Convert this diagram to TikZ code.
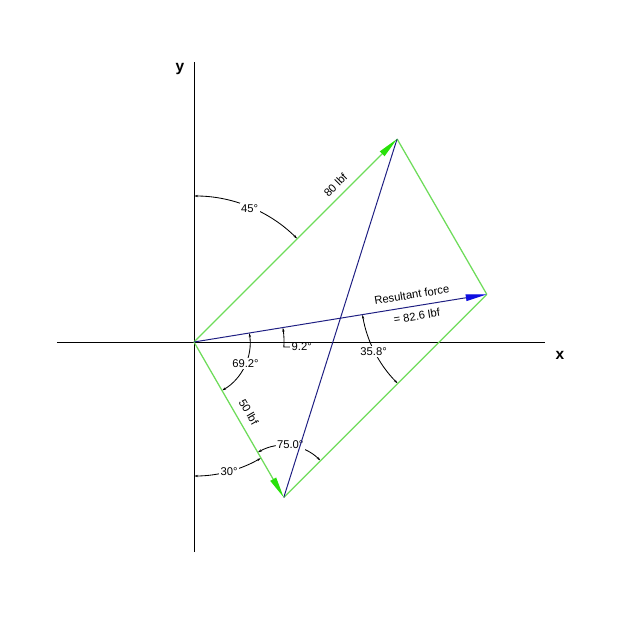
\documentclass[tikz,border=0pt]{standalone}
\usepackage{fontspec}
\setmainfont{Liberation Sans}
\usetikzlibrary{arrows.meta,calc}
\definecolor{lgreen}{RGB}{110,220,90}
\definecolor{tipgreen}{RGB}{40,225,10}
\definecolor{navy}{RGB}{30,30,130}
\definecolor{tipblue}{RGB}{15,15,225}
\tikzstyle{axis}=[draw=black, line width=0.7pt]
\tikzstyle{side}=[draw=lgreen, line width=0.9pt]
\tikzstyle{force}=[side, -{Triangle[length=15pt,width=4.6pt,color=tipgreen]}]
\tikzstyle{diag}=[draw=navy, line width=0.7pt]
\tikzstyle{result}=[diag, -{Triangle[length=15pt,width=4.6pt,color=tipblue]}]
\tikzstyle{dim}=[draw=black, line width=0.6pt, {Stealth[length=3pt,width=1.6pt]}-{Stealth[length=3pt,width=1.6pt]}]
\tikzstyle{dimone}=[draw=black, line width=0.6pt, {Stealth[length=3pt,width=1.6pt]}-]
\tikzstyle{anglabel}=[fill=white, inner sep=1pt, font=\fontsize{8}{9}\selectfont]
\tikzstyle{vlabel}=[inner sep=1pt, font=\fontsize{8}{9}\selectfont]
\tikzstyle{axlabel}=[inner sep=1pt, font=\fontsize{11}{13}\selectfont\bfseries]

\begin{document}
\begin{tikzpicture}[x=0.025cm, y=0.025cm]
  \useasboundingbox (-194,-278) rectangle (426,342);
  \coordinate (O) at (0,0);
  \coordinate (A) at (45:287.2);
  \coordinate (B) at (-60:179.5);
  \coordinate (R) at ($(A)+(B)$);
  \coordinate (xl) at (-137,0);
  \coordinate (xr) at (351,0);
  \coordinate (yb) at (0,-210);
  \coordinate (yt) at (0,280);
  % axes
  \draw[axis] (xl) -- (xr);
  \draw[axis] (yb) -- (yt);
  \node[axlabel] (xlab) at (366,-13) {x};
  \node[axlabel] (ylab) at (-14,273) {y};
  % angles
  \draw[dim] ([shift={(90:146)}]O) arc[start angle=90, end angle=45, radius=146];
  \node[anglabel] (a45) at (67.4:145) {45°};
  \draw[dim] ([shift={(9.23:56)}]O) arc[start angle=9.23, end angle=-60, radius=56];
  \node[anglabel] (a69) at (-23:56) {69.2°};
  \draw[dimone] ([shift={(9.23:90)}]O) arc[start angle=9.23, end angle=-3.2, radius=90]
    -- ++(6,0) node[vlabel, right] (a9) {9.2°};
  \draw[dim] ([shift={(270:134)}]O) arc[start angle=270, end angle=300, radius=134];
  \node[anglabel] (a30) at (285.2:134) {30°};
  \draw[dim] ([shift={(120:52)}]B) arc[start angle=120, end angle=45, radius=52];
  \node[anglabel] (a75) at ([shift={(83:53)}]B) {75.0°};
  \draw[dim] ([shift={(189.23:126)}]R) arc[start angle=189.23, end angle=225, radius=126];
  \node[anglabel] (a35) at ([shift={(206.9:127)}]R) {35.8°};
  % parallelogram
  \draw[side] (A) -- (R);
  \draw[side] (B) -- (R);
  \draw[diag] (B) -- (A);
  % forces
  \draw[force] (O) -- node[vlabel, pos=0.735, above=3.5pt, sloped] (f80) {80 lbf} (A);
  \draw[force] (O) -- node[vlabel, pos=0.49, above=4.5pt, sloped] (f50) {50 lbf} (B);
  \draw[result] (O) -- node[vlabel, pos=0.75, above=4pt, sloped] (rt) {Resultant force}
    node[vlabel, pos=0.755, below=3pt, sloped] (rv) {= 82.6 lbf} (R);
\end{tikzpicture}
\end{document}
